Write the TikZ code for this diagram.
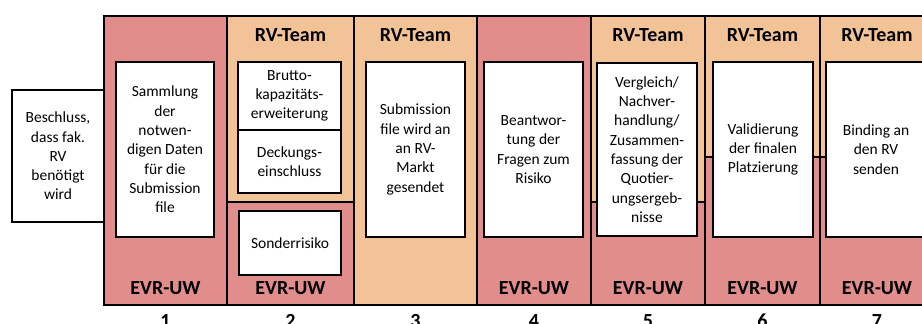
\documentclass[tikz,border=0pt]{standalone}
\usepackage{fontspec}
\setmainfont{Carlito}
\definecolor{uwred}{RGB}{224,141,139}
\definecolor{rvpeach}{RGB}{243,195,152}
\tikzset{
  stepbox/.style={draw, fill=white, line width=2.8pt, align=center, inner sep=1pt,
    font=\fontsize{15.5}{19.3}\selectfont},
  lanelabel/.style={font=\bfseries\fontsize{20}{24}\selectfont},
  lanerule/.style={line width=2.8pt},
}

\begin{document}
\begin{tikzpicture}[x=1pt,y=-1pt]
\useasboundingbox (0,0) rectangle (922,324);

\begin{scope}
% lanes of the steps
\fill[uwred] (104,16) rectangle (227,305);
\fill[rvpeach] (227,16) rectangle (354,202);
\fill[uwred] (227,202) rectangle (354,305);
\fill[rvpeach] (354,16) rectangle (477,305);
\fill[uwred] (477,16) rectangle (591,305);
\fill[rvpeach] (591,16) rectangle (705,202);
\fill[uwred] (591,202) rectangle (705,305);
\fill[rvpeach] (705,16) rectangle (934,157);
\fill[uwred] (705,157) rectangle (934,305);
\draw[lanerule] (104,16) rectangle (934,305);
\draw[lanerule] (227,16) -- (227,305);
\draw[lanerule] (354,16) -- (354,305);
\draw[lanerule] (477,16) -- (477,305);
\draw[lanerule] (591,16) -- (591,305);
\draw[lanerule] (705,16) -- (705,305);
\draw[lanerule] (820,16) -- (820,305);
\draw[lanerule] (227,202) -- (354,202);
\draw[lanerule] (591,202) -- (705,202);
\draw[lanerule] (705,157) -- (934,157);
\end{scope}

\begin{scope}
\node[lanelabel] (rv2) at (290.5,35) {RV-Team};
\node[lanelabel] (rv3) at (415.5,35) {RV-Team};
\node[lanelabel] (rv5) at (648,35) {RV-Team};
\node[lanelabel] (rv6) at (762.5,35) {RV-Team};
\node[lanelabel] (rv7) at (877,35) {RV-Team};
\node[lanelabel] (uw1) at (165.5,288) {EVR-UW};
\node[lanelabel] (uw2) at (290.5,288) {EVR-UW};
\node[lanelabel] (uw4) at (534,288) {EVR-UW};
\node[lanelabel] (uw5) at (648,288) {EVR-UW};
\node[lanelabel] (uw6) at (762.5,288) {EVR-UW};
\node[lanelabel] (uw7) at (877,288) {EVR-UW};
\end{scope}

\begin{scope}
\node[stepbox, minimum width=92pt, minimum height=132pt] (beschluss) at (58,156)
  {Beschluss,\\dass fak.\\RV\\benötigt\\wird};
\node[stepbox, minimum width=98pt, minimum height=175pt] (daten) at (165,149.5)
  {Sammlung\\der\\notwen-\\digen Daten\\für die\\Submission\\file};
\node[stepbox, minimum width=103pt, minimum height=68pt] (brutto) at (289.5,96)
  {Brutto-\\kapazitäts-\\erweiterung};
\node[stepbox, minimum width=103pt, minimum height=63pt] (deckung) at (289.5,161.5)
  {Deckungs-\\einschluss};
\node[stepbox, minimum width=102pt, minimum height=64pt] (sonder) at (290,243)
  {Sonderrisiko};
\node[stepbox, minimum width=99pt, minimum height=175pt] (markt) at (415.5,149.5)
  {Submission\\file wird an\\an RV-\\Markt\\gesendet};
\node[stepbox, minimum width=99pt, minimum height=175pt] (fragen) at (533.5,149.5)
  {Beantwor-\\tung der\\Fragen zum\\Risiko};
\node[stepbox, minimum width=100pt, minimum height=173pt] (vergleich) at (647,149.5)
  {Vergleich/\\Nachver-\\handlung/\\Zusammen-\\fassung der\\Quotier-\\ungsergeb-\\nisse};
\node[stepbox, minimum width=100pt, minimum height=175pt] (valid) at (763,149.5)
  {Validierung\\der finalen\\Platzierung};
\node[stepbox, minimum width=100pt, minimum height=175pt] (binding) at (876,149.5)
  {Binding an\\den RV\\senden};
\end{scope}

\begin{scope}
\node[lanelabel, anchor=base] (n1) at (165.5,327.5) {1};
\node[lanelabel, anchor=base] (n2) at (290.5,327.5) {2};
\node[lanelabel, anchor=base] (n3) at (415.5,327.5) {3};
\node[lanelabel, anchor=base] (n4) at (534,327.5) {4};
\node[lanelabel, anchor=base] (n5) at (648,327.5) {5};
\node[lanelabel, anchor=base] (n6) at (762.5,327.5) {6};
\node[lanelabel, anchor=base] (n7) at (877,327.5) {7};
\end{scope}

\end{tikzpicture}
\end{document}
